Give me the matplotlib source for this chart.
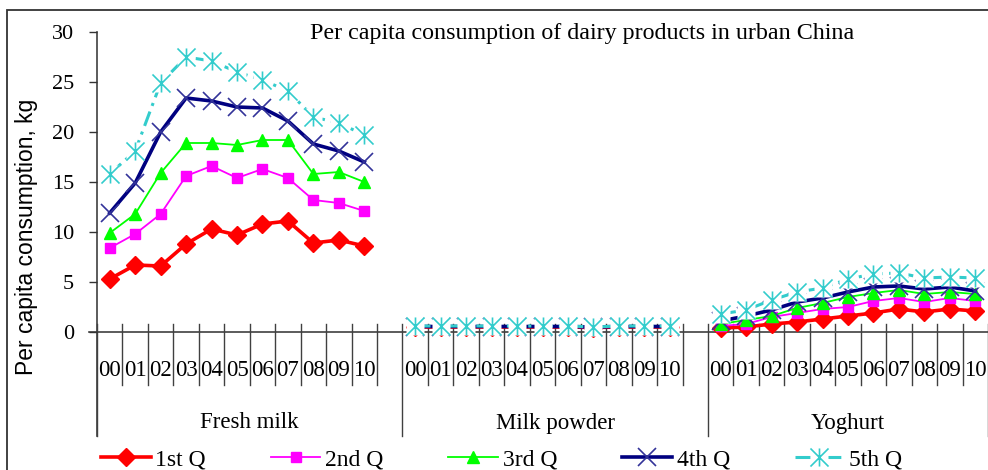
import numpy as np
import matplotlib
matplotlib.use("Agg")
import matplotlib.pyplot as plt
from matplotlib.path import Path
from matplotlib.patches import Rectangle

years = ["00", "01", "02", "03", "04", "05", "06", "07", "08", "09", "10"]
groups = ["Fresh milk", "Milk powder", "Yoghurt"]
series_names = ["1st Q", "2nd Q", "3rd Q", "4th Q", "5th Q"]

# per capita consumption, kg
fresh_milk = {
    "1st Q": [5.3, 6.7, 6.6, 8.8, 10.3, 9.7, 10.8, 11.1, 8.9, 9.2, 8.6],
    "2nd Q": [8.4, 9.8, 11.8, 15.6, 16.6, 15.4, 16.3, 15.4, 13.2, 12.9, 12.1],
    "3rd Q": [9.9, 11.8, 15.9, 18.9, 18.9, 18.7, 19.2, 19.2, 15.8, 16.0, 15.0],
    "4th Q": [11.9, 14.9, 20.0, 23.4, 23.1, 22.5, 22.4, 21.1, 18.8, 18.1, 17.0],
    "5th Q": [15.8, 18.1, 24.9, 27.5, 27.1, 26.0, 25.2, 24.1, 21.5, 20.9, 19.7],
}
milk_powder = {
    "1st Q": [0.5, 0.5, 0.5, 0.5, 0.5, 0.5, 0.5, 0.45, 0.5, 0.5, 0.5],
    "2nd Q": [0.5, 0.5, 0.5, 0.5, 0.5, 0.5, 0.5, 0.45, 0.5, 0.5, 0.5],
    "3rd Q": [0.55, 0.55, 0.55, 0.55, 0.55, 0.55, 0.55, 0.5, 0.55, 0.55, 0.55],
    "4th Q": [0.55, 0.55, 0.55, 0.55, 0.55, 0.55, 0.55, 0.5, 0.55, 0.55, 0.55],
    "5th Q": [0.6, 0.6, 0.6, 0.6, 0.6, 0.6, 0.6, 0.5, 0.6, 0.6, 0.6],
}
yoghurt = {
    "1st Q": [0.4, 0.5, 0.8, 1.0, 1.3, 1.6, 1.9, 2.3, 2.0, 2.3, 2.1],
    "2nd Q": [0.6, 0.8, 1.5, 1.9, 2.3, 2.5, 3.1, 3.4, 3.0, 3.4, 3.1],
    "3rd Q": [0.8, 1.2, 1.6, 2.4, 2.9, 3.5, 3.9, 4.2, 3.8, 4.0, 3.8],
    "4th Q": [1.1, 1.6, 2.2, 3.0, 3.4, 4.0, 4.5, 4.6, 4.3, 4.5, 4.1],
    "5th Q": [1.8, 2.2, 3.2, 4.0, 4.4, 5.3, 5.8, 5.9, 5.4, 5.5, 5.4],
}
group_data = [fresh_milk, milk_powder, yoghurt]

# excel-like asterisk marker
star = Path([(-1, -1), (1, 1), (-1, 1), (1, -1), (0, -1), (0, 1)],
            [Path.MOVETO, Path.LINETO, Path.MOVETO, Path.LINETO, Path.MOVETO, Path.LINETO])

line_styles = {
    "1st Q": dict(color="#FF0000", lw=2.6),
    "2nd Q": dict(color="#FF00FF", lw=1.3),
    "3rd Q": dict(color="#00FF00", lw=1.3),
    "4th Q": dict(color="#000080", lw=2.6),
    "5th Q": dict(color="#33CCCC", lw=2.2, ls=(0, (5, 2, 1, 2))),
}
marker_styles = {
    "1st Q": dict(marker="D", ms=9, mfc="#FF0000", mec="#FF0000"),
    "2nd Q": dict(marker="s", ms=7.5, mfc="#FF00FF", mec="#FF00FF"),
    "3rd Q": dict(marker="^", ms=9, mfc="#00FF00", mec="#00FF00"),
    "4th Q": dict(marker="x", ms=13, mew=1.2, mec="#333399"),
    "5th Q": dict(marker=star, ms=13, mew=1.2, mec="#33CCCC", mfc="none"),
}

serif = "Liberation Serif"
sans = "Liberation Sans"

W, H = 988, 470
fig = plt.figure(figsize=(W / 100, H / 100), dpi=100)
fig.patch.set_facecolor("white")

# outer chart frame (only top and left visible in the crop)
fig.add_artist(Rectangle((7 / W, -0.5), 2, 0.5 + 1 - 10 / H, transform=fig.transFigure,
                         fill=False, ec="#333333", lw=1.3))

x0, x1 = 97 / W, 988 / W
y0, y1 = 1 - 332 / H, 1 - 32 / H
ax = fig.add_axes([x0, y0, x1 - x0, y1 - y0])

nslots = 35
group_start = [0, 12, 24]

handles = []
for k, name in enumerate(series_names):
    xs, ys = [], []
    for g, data in zip(group_start, group_data):
        xs += [g + i + 0.5 for i in range(len(years))] + [np.nan]
        ys += data[name] + [np.nan]
    z = 3 + k
    ln, = ax.plot(xs, ys, clip_on=False, zorder=z, **line_styles[name])
    parts = [ln]
    if name == "5th Q":
        # star markers carry a white box, like excel draws them
        box, = ax.plot(xs, ys, ls="none", marker="s", ms=12.5, mfc="white", mec="none",
                       clip_on=False, zorder=z + 0.3)
        parts.append(box)
    mk, = ax.plot(xs, ys, ls="none", clip_on=False, zorder=z + 0.6, **marker_styles[name])
    parts.append(mk)
    handles.append(tuple(parts))

ax.set_xlim(0, nslots)
ax.set_ylim(0, 30)
ax.set_yticks(range(0, 31, 5))
for s in ax.spines.values():
    s.set_visible(False)
ax.set_xticks([])
ax.tick_params(axis="y", direction="out", length=6, width=1, color="#333333", pad=10.5,
               labelsize=16)
for t in ax.get_yticklabels():
    t.set_fontfamily(serif)

axis_col = "#404040"
tr = ax.get_xaxis_transform()
# y axis line, running down through the category area
ax.plot([0, 0], [1, -104 / 300], transform=tr, color=axis_col, lw=1.2, clip_on=False, zorder=1)
# zero line
ax.plot([-8 / 25.46, nslots], [0, 0], transform=tr, color=axis_col, lw=1.2, clip_on=False,
        zorder=1)

for b in range(nslots + 1):
    bottom = -104 / 300 if b in (0, 12, 24, 35) else -53 / 300
    ax.plot([b, b], [8 / 300, bottom], transform=tr, color=axis_col, lw=1.0,
            clip_on=False, zorder=1)

for g in group_start:
    for i, yr in enumerate(years):
        ax.text(g + i + 0.5, -39 / 300, yr, transform=tr, ha="center", va="center",
                fontsize=16.5, fontfamily=serif)

group_centers = [6, 18, 29.5]
for c, name in zip(group_centers, groups):
    ax.text(c, -91 / 300, name, transform=tr, ha="center", va="center",
            fontsize=16.5, fontfamily=serif)

fig.text(27 / W, 1 - 237 / H, "Per capita consumption, kg", rotation=90, ha="center",
         va="center", fontsize=16.5, fontfamily=sans)
fig.text(582 / W, 1 - 33 / H, "Per capita consumption of dairy products in urban China",
         ha="center", va="center", fontsize=17.3, fontfamily=serif)

fig.legend(handles=handles, labels=series_names, loc="center left",
           bbox_to_anchor=(101 / W, 1 - 460 / H), ncol=5, frameon=False,
           prop={"family": serif, "size": 17}, handlelength=2.1, columnspacing=2.75,
           handletextpad=0.2, borderpad=0, borderaxespad=0)

fig.savefig("out.png", dpi=100, facecolor="white")
